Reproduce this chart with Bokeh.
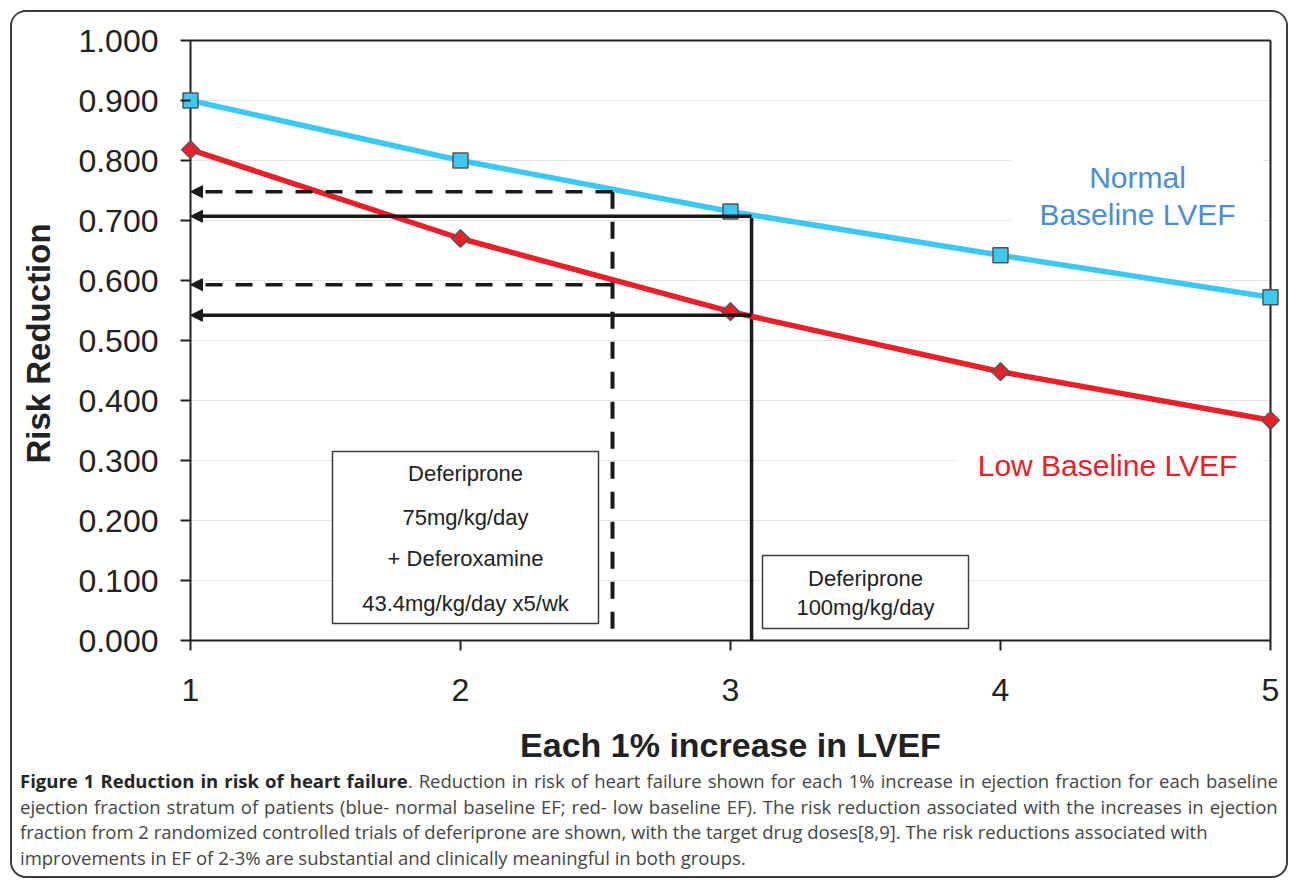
from bokeh.plotting import figure
from bokeh.layouts import column
from bokeh.models import Range1d, FixedTicker, NumeralTickFormatter, Label, Arrow, NormalHead, Div
from bokeh.embed import file_html
from bokeh.resources import INLINE

# ---------------- data ----------------
lvef_increase = [1, 2, 3, 4, 5]
normal_baseline = [0.900, 0.800, 0.715, 0.642, 0.572]
low_baseline = [0.818, 0.670, 0.548, 0.448, 0.367]
x_tick_values = [1, 2, 3, 4, 5]
y_tick_values = [0.0, 0.1, 0.2, 0.3, 0.4, 0.5, 0.6, 0.7, 0.8, 0.9, 1.0]

dose_lvef_gain = [2.563, 3.078]          # combo trial (dashed), deferiprone 100 (solid)
dose_normal_rr = [0.748, 0.707]
dose_low_rr = [0.593, 0.542]
dose_box1_lines = ["Deferiprone", "75mg/kg/day", "+ Deferoxamine", "43.4mg/kg/day x5/wk"]
dose_box2_lines = ["Deferiprone", "100mg/kg/day"]

cap1_bold = "Figure 1 Reduction in risk of heart failure"
cap1_rest = (". Reduction in risk of heart failure shown for each 1% increase in ejection "
             "fraction for each baseline")
cap2 = ("ejection fraction stratum of patients (blue- normal baseline EF; red- low baseline EF). "
        "The risk reduction associated with the increases in ejection")
cap3 = ("fraction from 2 randomized controlled trials of deferiprone are shown, with the target "
        "drug doses[8,9]. The risk reductions associated with")
cap4 = "improvements in EF of 2-3% are substantial and clinically meaningful in both groups."

# ---------------- layout helpers ----------------
PXX = 270.0   # px per x unit
PXY = 600.0   # px per y unit
ORIGIN = 12   # page offset of the content (margin 10 + border 2)
CONTENT_W = 1274
MAIN_BOTTOM = 770
CONTENT_BOTTOM = 876


def px_x(px):
    return 1 + (px - 190) / PXX


def px_y(py):
    return (640 - py) / PXY


FONT = "Liberation Sans"
INK = "#222222"
BLUE = "#3CC8F0"
RED = "#E8202A"

p = figure(width=CONTENT_W, height=MAIN_BOTTOM - ORIGIN,
           x_range=Range1d(1 - 10 / PXX, 5 + 10 / PXX),
           y_range=Range1d(0 - 10 / PXY, 1 + 4 / PXY),
           output_backend="svg", toolbar_location=None,
           min_border_left=180 - ORIGIN, min_border_right=ORIGIN + CONTENT_W - 1280,
           min_border_top=36 - ORIGIN, min_border_bottom=MAIN_BOTTOM - 650)
p.outline_line_color = None
p.xgrid.grid_line_color = None
p.ygrid.grid_line_color = None
p.background_fill_color = "white"
p.border_fill_color = "white"

# axes
for ax in (p.xaxis[0], p.yaxis[0]):
    ax.axis_line_color = None
    ax.major_tick_in = 10
    ax.major_tick_out = 0
    ax.major_tick_line_width = 2
    ax.major_tick_line_color = INK
    ax.minor_tick_line_color = None
    ax.major_label_text_font = FONT
    ax.major_label_text_font_size = "32px"
    ax.major_label_text_color = INK
    ax.axis_label_text_font = FONT
    ax.axis_label_text_font_style = "bold"
    ax.axis_label_text_color = INK

p.xaxis.ticker = FixedTicker(ticks=x_tick_values)
p.yaxis.ticker = FixedTicker(ticks=y_tick_values)
p.yaxis.formatter = NumeralTickFormatter(format="0.000")
p.xaxis.formatter = NumeralTickFormatter(format="0")
p.xaxis.major_label_standoff = 28
p.yaxis.major_label_standoff = 22
p.xaxis.axis_label = "Each 1% increase in LVEF"
p.xaxis.axis_label_text_font_size = "34px"
p.xaxis.axis_label_standoff = 22
p.yaxis.axis_label = "Risk Reduction"
p.yaxis.axis_label_text_font_size = "33px"
p.yaxis.axis_label_standoff = 18

# gridlines (between the axis and right border only)
p.segment(x0=[x_tick_values[0]] * len(y_tick_values), x1=[x_tick_values[-1]] * len(y_tick_values),
          y0=y_tick_values, y1=y_tick_values, line_color="#e4e4e4", line_width=1)

# white backgrounds behind series labels
p.quad(left=[px_x(1010), px_x(955)], right=[px_x(1263), px_x(1263)],
       top=[px_y(150), px_y(443)], bottom=[px_y(232), px_y(487)],
       fill_color="white", line_color=None)

# dose boxes
p.quad(left=[px_x(332), px_x(762)], right=[px_x(598), px_x(968)],
       top=[px_y(451), px_y(555)], bottom=[px_y(623), px_y(628)],
       fill_color="white", line_color="#3c3c3c", line_width=1.5)

# frame lines: axis lines + top/right border
p.segment(x0=[x_tick_values[0], x_tick_values[0], x_tick_values[0], x_tick_values[-1]],
          x1=[x_tick_values[-1], x_tick_values[0], x_tick_values[-1], x_tick_values[-1]],
          y0=[y_tick_values[0], y_tick_values[0], y_tick_values[-1], y_tick_values[0]],
          y1=[y_tick_values[0], y_tick_values[-1], y_tick_values[-1], y_tick_values[-1]],
          line_color=INK, line_width=2)

# vertical drop lines from dose points
p.segment(x0=[dose_lvef_gain[0]], x1=[dose_lvef_gain[0]], y0=[dose_normal_rr[0]], y1=[0],
          line_color="#1a1a1a", line_width=4, line_dash="17 13")
p.segment(x0=[dose_lvef_gain[1]], x1=[dose_lvef_gain[1]], y0=[dose_normal_rr[1]], y1=[0],
          line_color="#1a1a1a", line_width=3.5)

# series
p.line(lvef_increase, normal_baseline, line_color=BLUE, line_width=5.5)
p.line(lvef_increase, low_baseline, line_color=RED, line_width=5.5)
p.scatter(lvef_increase, normal_baseline, marker="square", size=15,
          fill_color=BLUE, line_color="#555555", line_width=1.5)
p.scatter(lvef_increase, low_baseline, marker="square", size=12.5, angle=0.785398,
          fill_color=RED, line_color="#555555", line_width=1.5)

# horizontal arrows to the y axis
for i, dash in enumerate(["17 13", "solid"]):
    for yv in (dose_normal_rr[i], dose_low_rr[i]):
        p.add_layout(Arrow(x_start=dose_lvef_gain[i], y_start=yv, x_end=x_tick_values[0], y_end=yv,
                           line_color="#1a1a1a", line_width=3.5, line_dash=dash,
                           end=NormalHead(size=12, fill_color="#1a1a1a", line_color="#1a1a1a",
                                          line_width=1)))

# series labels
for txt, yy in (("Normal", 177), ("Baseline LVEF", 214)):
    p.add_layout(Label(x=px_x(1137), y=px_y(yy), text=txt, text_align="center",
                       text_baseline="middle", text_font=FONT, text_font_size="30px",
                       text_color="#4A8ED4"))
p.add_layout(Label(x=px_x(1107), y=px_y(465), text="Low Baseline LVEF", text_align="center",
                   text_baseline="middle", text_font=FONT, text_font_size="30px", text_color=RED))

# dose box texts
for txt, yy in zip(dose_box1_lines, [473, 517, 558, 603]):
    p.add_layout(Label(x=px_x(465), y=px_y(yy), text=txt, text_align="center",
                       text_baseline="middle", text_font=FONT, text_font_size="22px",
                       text_color=INK))
for txt, yy in zip(dose_box2_lines, [578, 607]):
    p.add_layout(Label(x=px_x(865), y=px_y(yy), text=txt, text_align="center",
                       text_baseline="middle", text_font=FONT, text_font_size="22px",
                       text_color=INK))

# ---------------- caption (justified HTML text) ----------------
CAP_H = CONTENT_BOTTOM - MAIN_BOTTOM


def justified(words_html):
    return ('<div style="display:flex;justify-content:space-between;white-space:nowrap;">'
            + "".join("<span>%s</span>" % w for w in words_html) + "</div>")


bold_words = cap1_bold.split(" ")
rest_words = cap1_rest.split(" ")
line1 = (["<b style='color:#262626'>%s</b>" % w for w in bold_words[:-1]]
         + ["<b style='color:#262626'>%s</b>%s" % (bold_words[-1], rest_words[0])]
         + rest_words[1:])
html = (
    '<div style="margin:-2px 0 0 8px;width:1258px;font-family:\'Open Sans\';'
    'font-size:18.5px;line-height:25.7px;color:#454545;">'
    + justified(line1)
    + justified(cap2.split(" "))
    + '<div style="white-space:nowrap;">%s</div>' % cap3
    + '<div style="white-space:nowrap;">%s</div>' % cap4
    + "</div>"
)
caption = Div(text=html, width=CONTENT_W, height=CAP_H, margin=0)

layout = column(p, caption, spacing=0,
                styles={"border": "2px solid #3b3b3b", "border-radius": "16px",
                        "overflow": "hidden", "margin": "10px 0 0 10px",
                        "background": "white"})

open("out.html", "w").write(file_html(layout, INLINE))
